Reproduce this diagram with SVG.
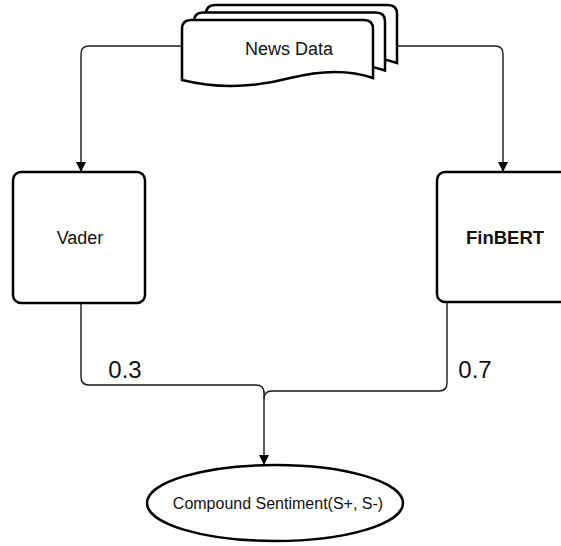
<svg xmlns="http://www.w3.org/2000/svg" width="561" height="546" viewBox="0 0 561 546">
  <defs>
    <style>
      .shape { fill: #ffffff; stroke: #000000; stroke-width: 2.5; }
      .edge { fill: none; stroke: #1a1a1a; stroke-width: 1.4; }
      .lbl { font-family: "Liberation Sans", Arial, sans-serif; fill: #111111; text-anchor: middle; }
    </style>
    <marker id="arrow" viewBox="0 0 10 10" refX="10" refY="5" markerWidth="10" markerHeight="10" markerUnits="userSpaceOnUse" orient="auto">
      <path d="M0,0 L10,5 L0,10 Z" fill="#000000"/>
    </marker>
    <!-- one page of the stacked document, drawn at origin -->
    <path id="page" d="M0,9 Q0,0 9,0 L182,0 Q191,0 191,9 L191,58 C168,50 140,50 108,58 C78,66 40,70 0,60 Z"/>
  </defs>

  <rect width="561" height="546" fill="#ffffff"/>

  <g id="connectors">
    <path class="edge" d="M182,46 L89,46 Q81,46 81,54 L81,172" marker-end="url(#arrow)"/>
    <path class="edge" d="M397,46 L495,46 Q503,46 503,54 L503,172" marker-end="url(#arrow)"/>
    <path class="edge" d="M81,303 L81,377 Q81,385 89,385 L256,385 Q264,385 264,393"/>
    <path class="edge" d="M447,302 L447,383 Q447,391 439,391 L272,391 Q264,391 264,399"/>
    <path class="edge" d="M264,391 L264,465" marker-end="url(#arrow)"/>
    <text class="lbl" x="125" y="378" font-size="24">0.3</text>
    <text class="lbl" x="475" y="378" font-size="24">0.7</text>
  </g>

  <g id="news-data">
    <use href="#page" class="shape" x="206" y="5"/>
    <use href="#page" class="shape" x="194" y="12.5"/>
    <use href="#page" class="shape" x="182" y="20"/>
    <text class="lbl" x="289" y="55" font-size="18">News Data</text>
  </g>

  <g id="vader">
    <rect class="shape" x="13" y="172" width="132" height="131" rx="8"/>
    <text class="lbl" x="80" y="244" font-size="18">Vader</text>
  </g>

  <g id="finbert">
    <rect class="shape" x="437" y="172" width="136" height="130" rx="8"/>
    <text class="lbl" x="505" y="244" font-size="18.5" font-weight="bold">FinBERT</text>
  </g>

  <g id="compound-sentiment">
    <ellipse class="shape" cx="275" cy="503" rx="128" ry="38"/>
    <text class="lbl" x="278" y="509" font-size="16">Compound Sentiment(S+, S-)</text>
  </g>
</svg>
